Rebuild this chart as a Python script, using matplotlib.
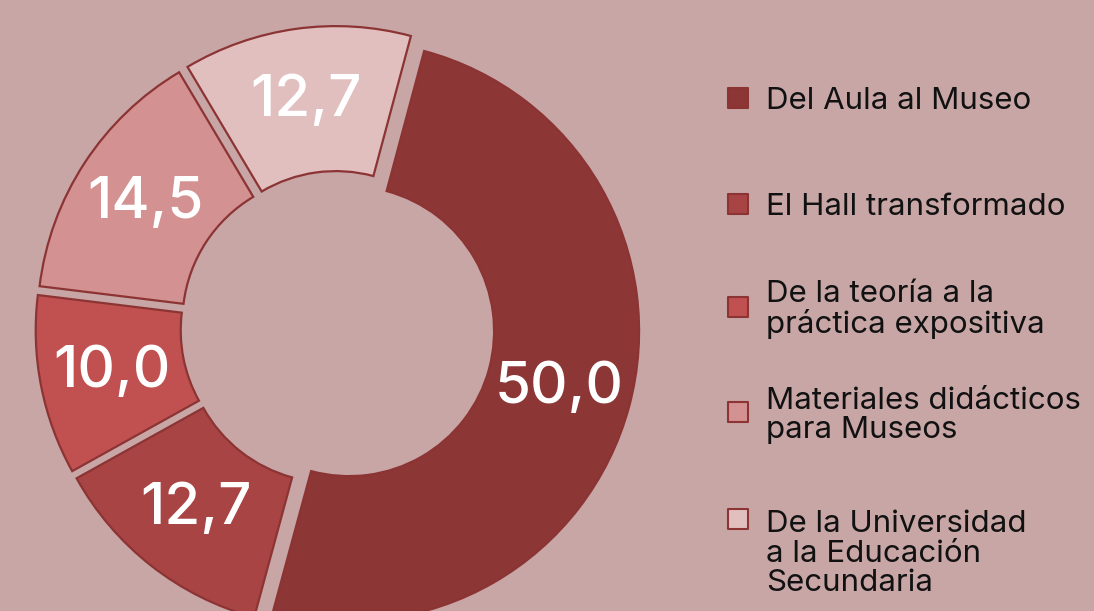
import matplotlib.pyplot as plt

categories = ["Del Aula al Museo", "El Hall transformado",
              "De la teoría a la\npráctica expositiva",
              "Materiales didácticos\npara Museos",
              "De la Universidad\na la Educación\nSecundaria"]
values = [50.0, 12.7, 10.0, 14.5, 12.7]
colors = ["#8c3636", "#a84444", "#c15150", "#d49191", "#e2bfbf"]

bg = "#c8a6a6"
edge = "#8c3434"
font = "Inter"

fig = plt.figure(figsize=(10.94, 6.11), dpi=100, facecolor=bg)
ax = fig.add_axes([0, 0, 1, 1])
ax.set_facecolor(bg)

labels = [f"{v:.1f}".replace(".", ",") for v in values]
wedges, texts = ax.pie(values, colors=colors, labels=labels, labeldistance=0.75,
                       startangle=75, counterclock=False, center=(337.5, 283),
                       radius=290, explode=[12] * len(values), frame=True,
                       wedgeprops=dict(width=145, edgecolor=edge, linewidth=1.6),
                       textprops=dict(color="white", fontsize=42, family=font,
                                      fontweight="medium"))
for t in texts:
    t.set_ha("center")
    t.set_va("center")
ax.set_xlim(0, 1094)
ax.set_ylim(0, 611)
ax.set_aspect("equal")
ax.axis("off")

# legend, drawn by hand to keep the uneven spacing of the original
square_y = [98, 204, 307, 412, 519]
first_baseline = [109, 215, 302, 407, 529]
line_step = 31
for lab, col, sy, by in zip(categories, colors, square_y, first_baseline):
    ax.scatter(737.5, 611 - sy, marker="s", s=210, color=col, edgecolor=edge,
               linewidth=1.5, zorder=3)
    # va="baseline" anchors the last line of a multi-line label
    last = by + lab.count("\n") * line_step
    ax.text(766, 611 - last, lab, ha="left", va="baseline", fontsize=22.5,
            family=font, color="#111111", linespacing=1.06)

fig.savefig("out.png", dpi=100, facecolor=bg)
